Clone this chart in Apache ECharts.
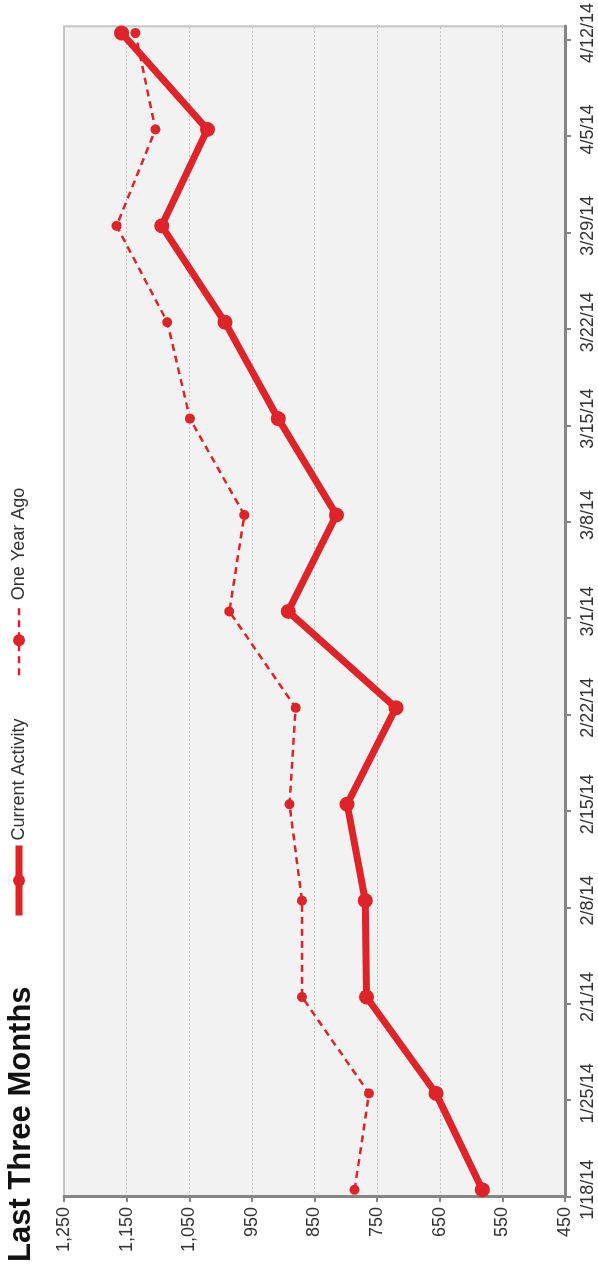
<!DOCTYPE html>
<html>
<head>
<meta charset="utf-8">
<script src="https://cdn.jsdelivr.net/npm/echarts@6/dist/echarts.min.js"></script>
<style>
  html, body { margin: 0; padding: 0; background: #fff; overflow: hidden; width: 598px; height: 1272px; }
  /* The chart is laid out landscape and turned a quarter turn counter-clockwise */
  #chart {
    position: absolute; left: 0; top: 0;
    width: 1272px; height: 598px;
    transform-origin: 0 0;
    transform: translateY(1272px) rotate(-90deg);
  }
</style>
</head>
<body>
<div id="chart"></div>
<script>
// Weekly activity, last three months vs. the same weeks a year earlier
const weeks = ['1/18/14', '1/25/14', '2/1/14', '2/8/14', '2/15/14', '2/22/14', '3/1/14',
               '3/8/14', '3/15/14', '3/22/14', '3/29/14', '4/5/14', '4/12/14'];
const currentActivity = [582, 656, 767, 769, 798, 720, 892, 815, 908, 993, 1094, 1021, 1158];
const oneYearAgo      = [786, 763, 870, 870, 890, 880, 986, 962, 1049, 1085, 1166, 1104, 1136];
const valueMin = 450;
const valueMax = 1250;
const valueStep = 100;

const RED = '#de2428';
const AXIS = '#858585';
const TEXT = '#333333';
const FONT = '"Liberation Sans", Arial, Helvetica, sans-serif';

const weekIndex = weeks.map((_, i) => i);
const tickOffset = 0.075;

const chart = echarts.init(document.getElementById('chart'), null, { renderer: 'canvas' });

chart.setOption({
  animation: false,
  backgroundColor: '#ffffff',
  textStyle: { fontFamily: FONT },
  title: {
    text: 'Last Three Months',
    left: 10,
    top: 6,
    padding: 0,
    textStyle: { fontFamily: FONT, fontSize: 31, fontWeight: 'bold', color: '#111111' }
  },
  legend: {
    data: ['Current Activity', 'One Year Ago'],
    left: 353,
    top: 10,
    padding: 0,
    itemWidth: 70,
    itemHeight: 15,
    itemGap: 42,
    lineStyle: { width: 'inherit' },
    textStyle: { fontFamily: FONT, fontSize: 18, color: TEXT }
  },
  grid: {
    left: 75,
    right: 23,
    top: 64,
    bottom: 33,
    show: true,
    backgroundColor: '#f2f2f2',
    borderColor: '#c6c6c6',
    borderWidth: 2
  },
  xAxis: {
    type: 'value',
    min: -tickOffset,
    max: weeks.length - 1 + 0.07,
    splitLine: { show: false },
    axisLine: { show: true, onZero: false, lineStyle: { color: AXIS, width: 3 } },
    axisTick: {
      show: true,
      length: 6,
      lineStyle: { color: AXIS, width: 2 },
      customValues: weekIndex.map(i => i - tickOffset)
    },
    axisLabel: {
      customValues: weekIndex,
      formatter: v => weeks[Math.round(v)],
      margin: 14,
      fontSize: 18,
      fontFamily: FONT,
      color: TEXT
    }
  },
  yAxis: {
    type: 'value',
    min: valueMin,
    max: valueMax,
    interval: valueStep,
    axisLine: { show: true, onZero: false, lineStyle: { color: AXIS, width: 3 } },
    axisTick: { show: true, length: 5, lineStyle: { color: AXIS, width: 2 } },
    axisLabel: {
      formatter: v => v.toLocaleString('en-US'),
      margin: 10,
      fontSize: 18,
      fontFamily: FONT,
      color: TEXT
    },
    splitLine: { show: true, lineStyle: { color: '#c4c4c4', width: 1, type: [2, 2] } }
  },
  series: [
    {
      name: 'Current Activity',
      type: 'line',
      data: currentActivity.map((v, i) => [i, v]),
      symbol: 'circle',
      symbolSize: 15,
      lineStyle: { color: RED, width: 7 },
      itemStyle: { color: RED },
      z: 2
    },
    {
      name: 'One Year Ago',
      type: 'line',
      data: oneYearAgo.map((v, i) => [i, v]),
      symbol: 'circle',
      symbolSize: 10,
      lineStyle: { color: RED, width: 2.5, type: [7, 5] },
      itemStyle: { color: RED },
      z: 3
    }
  ]
});
</script>
</body>
</html>
